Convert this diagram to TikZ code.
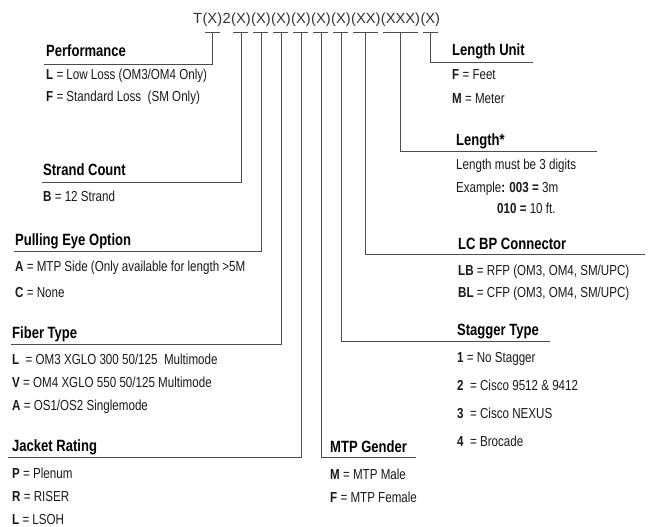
\documentclass[tikz,border=0pt]{standalone}
\usepackage{fontspec}
\setmainfont{Liberation Sans}
\newfontfamily\keyfont{Liberation Sans}[FakeStretch=0.8]
\usetikzlibrary{positioning}

\begin{document}
\begin{tikzpicture}[x=1pt,y=-1pt,
  code/.style={inner sep=0pt,text height=11pt,text depth=3pt,
               font=\fontsize{14.7}{15}\selectfont,text=black!80},
  head/.style={anchor=base west,inner sep=0pt,
               font=\keyfont\fontsize{16.3}{17}\selectfont\bfseries},
  item/.style={anchor=base west,inner sep=0pt,
               font=\keyfont\fontsize{14.5}{15}\selectfont,text=black!90},
  lead/.style={draw=black!70,line width=0.8pt}
]
  \useasboundingbox (0,0) rectangle (656,527);

  % part number
  \node[code,anchor=base west] (t0) at (193,24) {T};
  \node[code,right=0pt of t0] (g1)  {(X)};
  \node[code,right=0pt of g1] (t2)  {2};
  \node[code,right=0pt of t2] (g2)  {(X)};
  \node[code,right=0pt of g2] (g3)  {(X)};
  \node[code,right=0pt of g3] (g4)  {(X)};
  \node[code,right=0pt of g4] (g5)  {(X)};
  \node[code,right=0pt of g5] (g6)  {(X)};
  \node[code,right=0pt of g6] (g7)  {(X)};
  \node[code,right=0pt of g7] (g8)  {(XX)};
  \node[code,right=0pt of g8] (g9)  {(XXX)};
  \node[code,right=0pt of g9] (g10) {(X)};

  % left column
  \node[head] (perf)    at (46,57)  {Performance};
  \node[item] (perfL)   at (46,79)  {\textbf{L} = Low Loss (OM3/OM4 Only)};
  \node[item] (perfF)   at (46,101) {\textbf{F} = Standard Loss\ \ (SM Only)};

  \node[head] (strand)  at (43,175) {Strand Count};
  \node[item] (strandB) at (43,201) {\textbf{B} = 12 Strand};

  \node[head] (pull)    at (15,245) {Pulling Eye Option};
  \node[item] (pullA)   at (15,271) {\textbf{A} = MTP Side (Only available for length >5M};
  \node[item] (pullC)   at (15,297) {\textbf{C} = None};

  \node[head] (fiber)   at (12,338) {Fiber Type};
  \node[item] (fiberL)  at (12,364) {\textbf{L}\ \ = OM3 XGLO 300 50/125\ \ Multimode};
  \node[item] (fiberV)  at (12,387) {\textbf{V} = OM4 XGLO 550 50/125 Multimode};
  \node[item] (fiberA)  at (12,410) {\textbf{A} = OS1/OS2 Singlemode};

  \node[head] (jacket)  at (12,451) {Jacket Rating};
  \node[item] (jacketP) at (12,478) {\textbf{P} = Plenum};
  \node[item] (jacketR) at (12,501) {\textbf{R} = RISER};
  \node[item] (jacketL) at (12,524) {\textbf{L} = LSOH};

  % right column
  \node[head] (unit)    at (452,56)  {Length Unit};
  \node[item] (unitF)   at (452,80)  {\textbf{F} = Feet};
  \node[item] (unitM)   at (452,103) {\textbf{M} = Meter};

  \node[head] (len)     at (456,145) {Length*};
  \node[item] (lenA)    at (456,169) {Length must be 3 digits};
  \node[item] (lenB)    at (456,192) {Example\textbf{: 003 =} 3m};
  \node[item] (lenC)    at (497,213) {\textbf{010 =} 10 ft.};

  \node[head] (lcbp)    at (458,249) {LC BP Connector};
  \node[item] (lcbpLB)  at (458,275) {\textbf{LB} = RFP (OM3, OM4, SM/UPC)};
  \node[item] (lcbpBL)  at (458,297) {\textbf{BL} = CFP (OM3, OM4, SM/UPC)};

  \node[head] (stagger) at (457,335) {Stagger Type};
  \node[item] (stag1)   at (457,362) {\textbf{1} = No Stagger};
  \node[item] (stag2)   at (457,390) {\textbf{2}\ \ = Cisco 9512 \& 9412};
  \node[item] (stag3)   at (457,418) {\textbf{3}\ \ = Cisco NEXUS};
  \node[item] (stag4)   at (457,446) {\textbf{4}\ \ = Brocade};

  \node[head] (gender)  at (330,452) {MTP Gender};
  \node[item] (genderM) at (330,479) {\textbf{M} = MTP Male};
  \node[item] (genderF) at (330,502) {\textbf{F} = MTP Female};

  % ends of the underlines
  \coordinate (perfE)    at (44,64);
  \coordinate (strandE)  at (42,182);
  \coordinate (pullE)    at (14,251);
  \coordinate (fiberE)   at (11,344);
  \coordinate (jacketE)  at (8,457);
  \coordinate (genderE)  at (416,457);
  \coordinate (staggerE) at (550,341);
  \coordinate (lcbpE)    at (645,254);
  \coordinate (lenE)     at (597,151);
  \coordinate (unitE)    at (533,62);

  % tee marks under each field
  \foreach \g in {1,...,10}
    \draw[lead] ([xshift=2.5pt,yshift=-5pt]g\g.south west)
             -- ([xshift=-2.5pt,yshift=-5pt]g\g.south east);

  \draw[lead] ([yshift=-5pt]g1.south)  |- (perfE);
  \draw[lead] ([yshift=-5pt]g2.south)  |- (strandE);
  \draw[lead] ([yshift=-5pt]g3.south)  |- (pullE);
  \draw[lead] ([yshift=-5pt]g4.south)  |- (fiberE);
  \draw[lead] ([yshift=-5pt]g5.south)  |- (jacketE);
  \draw[lead] ([yshift=-5pt]g6.south)  |- (genderE);
  \draw[lead] ([yshift=-5pt]g7.south)  |- (staggerE);
  \draw[lead] ([yshift=-5pt]g8.south)  |- (lcbpE);
  \draw[lead] ([yshift=-5pt]g9.south)  |- (lenE);
  \draw[lead] ([yshift=-5pt]g10.south) |- (unitE);
\end{tikzpicture}
\end{document}
